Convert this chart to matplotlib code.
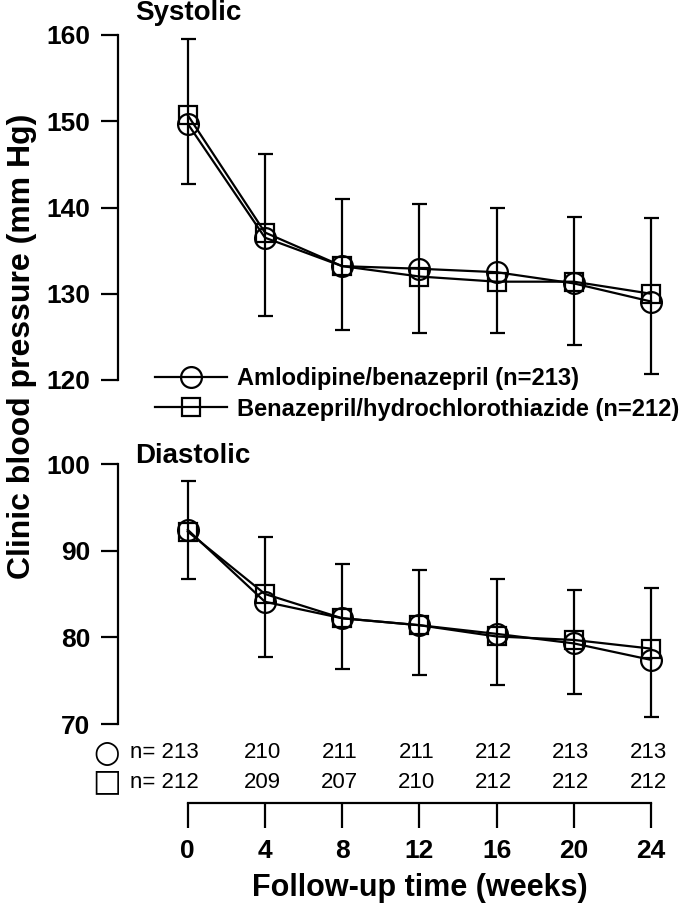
import numpy as np
import matplotlib
matplotlib.use("Agg")
import matplotlib.pyplot as plt
from matplotlib.lines import Line2D
from matplotlib.transforms import blended_transform_factory

plt.rcParams['font.family'] = ['Liberation Sans', 'DejaVu Sans']

weeks = np.array([0, 4, 8, 12, 16, 20, 24])

# systolic (mm Hg)
sys_amlo = np.array([149.7, 136.5, 133.2, 132.9, 132.5, 131.2, 129.1])
sys_bhct = np.array([150.7, 137.1, 133.2, 132.0, 131.4, 131.4, 130.0])
sys_hi = np.array([159.5, 146.2, 141.0, 140.4, 140.0, 138.9, 138.8])
sys_lo = np.array([142.7, 127.4, 125.8, 125.4, 125.5, 124.1, 120.7])

# diastolic (mm Hg)
dia_amlo = np.array([92.4, 84.1, 82.2, 81.4, 80.4, 79.3, 77.4])
dia_bhct = np.array([92.2, 85.0, 82.2, 81.4, 80.1, 79.7, 78.7])
dia_hi = np.array([98.0, 91.6, 88.5, 87.8, 86.7, 85.5, 85.7])
dia_lo = np.array([86.7, 77.7, 76.4, 75.6, 74.5, 73.5, 70.8])

n_amlo = [213, 210, 211, 211, 212, 213, 213]
n_bhct = [212, 209, 207, 210, 212, 212, 212]

labels = ["Amlodipine/benazepril (n=213)",
          "Benazepril/hydrochlorothiazide (n=212)"]

W, H = 685, 906
fig = plt.figure(figsize=(W / 100, H / 100), dpi=100)
ax1 = fig.add_axes([118.3 / W, 1 - 380 / H, 552 / W, 345 / H])
ax2 = fig.add_axes([118.3 / W, 1 - 724 / H, 552 / W, 260 / H])

lw = 1.6
for ax, a, b, hi, lo, ylim, yt in [
        (ax1, sys_amlo, sys_bhct, sys_hi, sys_lo, (120, 160), range(120, 161, 10)),
        (ax2, dia_amlo, dia_bhct, dia_hi, dia_lo, (70, 100), range(70, 101, 10))]:
    ax.errorbar(weeks, a, yerr=[a - lo, hi - a], fmt='none', ecolor='black',
                elinewidth=lw, capsize=5.4, capthick=lw, clip_on=False)
    ax.plot(weeks, a, color='black', lw=lw, marker='o', ms=15, mfc='none',
            mec='black', mew=lw, clip_on=False)
    ax.plot(weeks, b, color='black', lw=lw, marker='s', ms=13.5, mfc='none',
            mec='black', mew=lw, clip_on=False)
    ax.set_xlim(-3.6, 25.0)
    ax.set_ylim(*ylim)
    ax.set_yticks(list(yt))
    ax.spines['top'].set_visible(False)
    ax.spines['right'].set_visible(False)
    ax.spines['left'].set_linewidth(lw)
    ax.tick_params(axis='y', direction='out', length=12, width=lw, pad=8,
                   labelsize=19)
    for t in ax.get_yticklabels():
        t.set_fontweight('bold')

ax1.spines['bottom'].set_visible(False)
ax1.tick_params(axis='x', bottom=False, labelbottom=False)

ax2.spines['bottom'].set_position(('outward', 79 * 0.72))
ax2.spines['bottom'].set_bounds(0, 24)
ax2.spines['bottom'].set_linewidth(lw)
ax2.set_xticks(weeks)
ax2.tick_params(axis='x', direction='out', length=18, width=lw, pad=8,
                labelsize=19)
for t in ax2.get_xticklabels():
    t.set_fontweight('bold')

# legend
handles = [Line2D([], [], color='black', lw=lw, marker='o', ms=15, mfc='none', mew=lw),
           Line2D([], [], color='black', lw=lw, marker='s', ms=13.5, mfc='none', mew=lw)]
fig.legend(handles, labels, loc='upper left', bbox_to_anchor=(155 / W, 1 - 367 / H),
           frameon=False, prop={'size': 17, 'weight': 'bold'}, handlelength=3.05,
           handletextpad=0.42, labelspacing=0.32, borderpad=0, borderaxespad=0)

# panel titles and axis labels
fig.text(135 / W, 1 - 20 / H, "Systolic", fontsize=20, fontweight='bold', va='baseline')
fig.text(135 / W, 1 - 463 / H, "Diastolic", fontsize=20, fontweight='bold', va='baseline')
fig.text(22 / W, 1 - 346 / H, "Clinic blood pressure (mm Hg)", rotation=90,
         fontsize=23, fontweight='bold', ha='center', va='center')

tr = blended_transform_factory(ax2.transData, fig.transFigure)
ax2.text(12, 1 - 888 / H, "Follow-up time (weeks)", transform=tr, fontsize=22,
         fontweight='bold', ha='center', va='center')

# numbers at risk
y_c, y_s = 1 - 753 / H, 1 - 782 / H
ax2.text(-4.2, y_c, "\u25CB", transform=tr, fontsize=22, family='DejaVu Sans',
         ha='center', va='center')
ax2.text(-4.2, y_s, "\u25A1", transform=tr, fontsize=22, family='DejaVu Sans',
         ha='center', va='center')
for i, w in enumerate(weeks):
    if i == 0:
        ax2.text(w + 0.55, y_c, f"n= {n_amlo[i]}", transform=tr, fontsize=16,
                 ha='right', va='center')
        ax2.text(w + 0.55, y_s, f"n= {n_bhct[i]}", transform=tr, fontsize=16,
                 ha='right', va='center')
    else:
        ax2.text(w - 0.15, y_c, str(n_amlo[i]), transform=tr, fontsize=16,
                 ha='center', va='center')
        ax2.text(w - 0.15, y_s, str(n_bhct[i]), transform=tr, fontsize=16,
                 ha='center', va='center')

fig.savefig("out.png", dpi=100)
